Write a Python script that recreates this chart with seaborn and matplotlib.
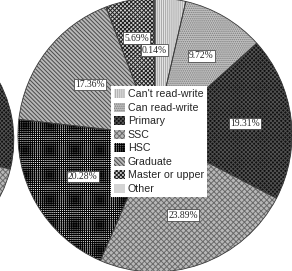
import matplotlib
matplotlib.use("Agg")
import numpy as np
import matplotlib.pyplot as plt
import matplotlib.patches as mpatches
import seaborn as sns

# education level shares (%), clockwise from 12 o'clock
categories = ["Can't read-write", "Can read-write", "Primary", "SSC",
              "HSC", "Graduate", "Master or upper", "Other"]
shares = [3.61, 9.72, 19.31, 23.89, 20.28, 17.36, 5.69, 0.14]
shown_labels = ["", "9.72%", "19.31%", "23.89%", "20.28%", "17.36%", "5.69%", "0.14%"]

# neighbouring chart, only its right edge is inside the picture
left_shares = [6.5, 8.9, 13.4, 27.8, 22.1, 15.6, 5.4, 0.3]

# grayscale fill styles: (face, hatch, hatch colour)
STYLES = [
    ("#e4e4e4", "||||||||", "#a8a8a8"),
    ("#c2c2c2", "........", "#7c7c7c"),
    ("#101010", "xxxxxxxx", "#505050"),
    ("#b8b8b8", "xxxxxx", "#6a6a6a"),
    ("#f0f0f0", "++++++++", "#000000"),
    ("#b8b8b8", "\\\\\\\\\\\\\\\\", "#4a4a4a"),
    ("#d0d0d0", "xxxxxxxx", "#202020"),
    ("#d4d4d4", "", "#d4d4d4"),
]
LABEL_DIST = [0.62, 0.67, 0.66, 0.62, 0.61, 0.60, 0.72, 0.62]

sns.set_theme(style="white")
plt.rcParams["font.family"] = ["Liberation Sans", "DejaVu Sans"]
plt.rcParams["hatch.linewidth"] = 0.7

fig = plt.figure(figsize=(2.92, 2.71), dpi=100)
ax = fig.add_axes([0, 0, 1, 1])


def hatched_pie(values, center, radius):
    wedges, _ = ax.pie(values, startangle=90, counterclock=False,
                       center=center, radius=radius,
                       wedgeprops=dict(linewidth=0))
    for w, (face, hatch, hcol) in zip(wedges, STYLES):
        w.set_facecolor(face)
        w.set_hatch(hatch)
        w.set_edgecolor(hcol)
    # outline pass
    ax.pie(values, startangle=90, counterclock=False, center=center,
           radius=radius,
           wedgeprops=dict(fill=False, edgecolor="#3a3a3a", linewidth=0.6))
    return wedges


hatched_pie(left_shares, (-1.93, -0.036), 0.9)
wedges = hatched_pie(shares, (0, 0), 1.0)

ax.set_aspect("auto")
ax.set_xlim(-1.131, 1.0)
ax.set_ylim(-0.993, 0.985)
ax.axis("off")

for w, lab, d in zip(wedges, shown_labels, LABEL_DIST):
    if not lab:
        continue
    mid = np.deg2rad((w.theta1 + w.theta2) / 2)
    ax.text(d * np.cos(mid), d * np.sin(mid), lab, ha="center", va="center",
            fontsize=6.9, family=["Liberation Serif"],
            bbox=dict(boxstyle="square,pad=0.12", facecolor="white",
                      edgecolor="#333333", linewidth=0.5))

handles = [mpatches.Patch(facecolor=f, hatch=h, edgecolor=c, linewidth=0)
           for f, h, c in STYLES]
leg = fig.legend(handles, categories, loc="upper left",
                 bbox_to_anchor=(0.381, 0.683), fontsize=7.7,
                 frameon=True, fancybox=False, framealpha=1,
                 edgecolor="white", borderpad=0.3, labelspacing=0.3,
                 handlelength=1.0, handleheight=0.95, handletextpad=0.25,
                 borderaxespad=0)
leg.get_frame().set_linewidth(0)

fig.savefig("out.png", dpi=100)
